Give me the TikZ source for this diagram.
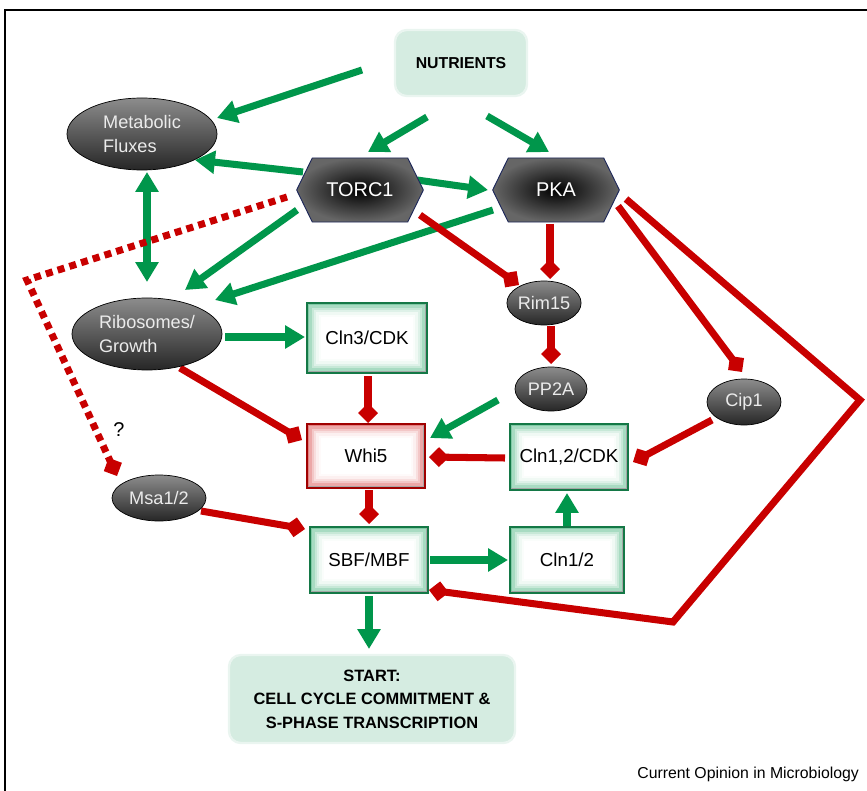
\documentclass[tikz,border=0pt]{standalone}
\usepackage{fontspec}
\setmainfont{Liberation Sans}
\usetikzlibrary{arrows.meta,shapes.geometric,shapes.symbols,calc}
\definecolor{ggreen}{RGB}{0,150,75}
\definecolor{gborder}{RGB}{20,120,70}
\definecolor{rred}{RGB}{200,0,0}
\definecolor{mint}{RGB}{213,236,225}
\pgfdeclarelayer{bg}
\pgfsetlayers{bg,main}
\tikzset{
  garr/.style={draw=ggreen, line width=6pt, -{Triangle[length=17pt,width=19pt]}},
  gdbl/.style={draw=ggreen, line width=6pt, {Triangle[length=17pt,width=19pt]}-{Triangle[length=17pt,width=19pt]}},
  rinh/.style={draw=rred, line width=6pt, line join=miter, -{Diamond[length=17pt,width=17pt]}},
  rdot/.style={draw=rred, line width=6pt, dash pattern=on 6pt off 4.5pt, -{Diamond[length=17pt,width=17pt]}},
  dark/.style={ellipse, draw=black, line width=0.6pt, top color=black!45, middle color=black!70, bottom color=black!85, text=white!92!black, inner sep=0pt, font=\fontsize{15.5}{20}\selectfont},
  hexa/.style={signal, signal to=west and east, signal pointer angle=128, draw={rgb,255:red,30;green,40;blue,90}, line width=0.8pt, inner color=black, outer color=black!60, text=white, inner sep=0pt, minimum width=3.8cm, minimum height=1.92cm, font=\fontsize{17}{20}\selectfont},
  bevel/.style={fill=white, path picture={
      \foreach \i/\c in {1/50,3/34,5/22,7/13,9/6,11/2} {
        \draw[#1!\c!white, line width=2.2pt]
          ([shift={(\i pt,\i pt)}]path picture bounding box.south west) rectangle
          ([shift={(-\i pt,-\i pt)}]path picture bounding box.north east);
      }
      \draw[black!35, line width=2pt]
          ([shift={(1pt,1pt)}]path picture bounding box.south west) --
          ([shift={(-1pt,1pt)}]path picture bounding box.south east) --
          ([shift={(-1pt,-1pt)}]path picture bounding box.north east);
    }},
  gbox/.style={rectangle, draw=gborder, line width=1.5pt, bevel=ggreen, minimum width=3.54cm, minimum height=1.98cm, inner sep=0pt, font=\fontsize{16}{19}\selectfont},
  rbox/.style={gbox, draw=rred!80!black, bevel=rred},
  soft/.style={rectangle, rounded corners=10pt, fill=mint, draw=mint!50!white, line width=2pt, inner sep=0pt, align=center, font=\bfseries}
}
\begin{document}
\begin{tikzpicture}[x=0.03cm, y=-0.03cm]
\useasboundingbox (0,0) rectangle (867,791);
\draw[line width=1.3pt] (867,10) -- (5,10) -- (5,791);

% nodes
\node[soft, minimum width=3.96cm, minimum height=1.98cm, font=\bfseries\fontsize{13.5}{16}\selectfont] (nut) at (461,63) {NUTRIENTS};
\node[dark, minimum width=4.5cm, minimum height=2.16cm, align=left] (met) at (142,134) {Metabolic\\Fluxes};
\node[hexa] (torc) at (360,190) {TORC1};
\node[hexa] (pka) at (556,190) {PKA};
\node[dark, minimum width=4.5cm, minimum height=2.16cm, align=left] (rib) at (147,334) {Ribosomes/\\Growth};
\node[gbox, minimum width=3.6cm, minimum height=2.1cm] (cln3) at (367,338) {Cln3/CDK};
\node[dark, minimum width=2.1cm, minimum height=1.32cm] (rim) at (544,303) {Rim15};
\node[dark, minimum width=2.16cm, minimum height=1.32cm] (pp2a) at (551,389) {PP2A};
\node[dark, minimum width=2.22cm, minimum height=1.38cm] (cip) at (744,402) {Cip1};
\node[rbox, minimum height=1.92cm] (whi) at (366,456) {Whi5};
\node[gbox] (cdk) at (569,457) {Cln1,2/CDK};
\node[dark, minimum width=2.82cm, minimum height=1.38cm] (msa) at (159,498) {Msa1/2};
\node[gbox] (sbf) at (369,560) {SBF/MBF};
\node[gbox, minimum width=3.42cm] (cln) at (567,560) {Cln1/2};
\node[soft, minimum width=8.58cm, minimum height=2.64cm, font=\bfseries\fontsize{14}{20}\selectfont] (start) at (372,699) {START:\\CELL CYCLE COMMITMENT \&\\S-PHASE TRANSCRIPTION};
\node[font=\fontsize{17}{20}\selectfont] (q) at (119,430) {?};
\node[anchor=east, font=\fontsize{13.5}{16}\selectfont] (src) at (863,774) {Current Opinion in Microbiology};

\coordinate (z1) at (860,400);
\coordinate (z2) at (673,622);
\coordinate (d1) at (27,280);

\begin{pgfonlayer}{bg}
% green activations
\draw[garr] ($(nut)+(-99,7)$) -- ($(met)+(75,-16)$);
\draw[garr] ($(nut)+(-34,54)$) -- ($(torc)+(8,-38)$);
\draw[garr] ($(nut)+(26,53)$) -- ($(pka)+(-7,-38)$);
\draw[garr] ($(torc)+(-57,-18)$) -- ($(met)+(53,26)$);
\draw[garr] ($(torc)+(57,-10)$) -- ($(pka)+(-68,0)$);
\draw[gdbl] ($(met)+(5,38)$) -- ($(rib)+(0,-52)$);
\draw[garr] ($(torc)+(-63,20)$) -- ($(rib)+(38,-44)$);
\draw[garr] ($(pka)+(-63,20)$) -- ($(rib)+(68,-34)$);
\draw[garr] ($(rib)+(78,3)$) -- ($(cln3)+(-62,-1)$);
\draw[garr] ($(pp2a)+(-53,11)$) -- ($(whi)+(64,-18)$);
\draw[garr] ($(sbf)+(61,0)$) -- ($(cln)+(-59,0)$);
\draw[garr] ($(cln)+(0,-34)$) -- ($(cdk)+(-2,36)$);
\draw[garr] ($(sbf)+(0,36)$) -- ($(start)+(-3,-50)$);
% red inhibitions
\draw[rinh] ($(torc)+(60,25)$) -- ($(rim)+(-25,-18)$);
\draw[rinh] ($(pka)+(-6,34)$) -- ($(rim)+(6,-24)$);
\draw[rinh] ($(rim)+(7,23)$) -- ($(pp2a)+(0,-25)$);
\draw[rinh] ($(pka)+(62,16)$) -- ($(cip)+(-2,-30)$);
\draw[rinh] ($(pka)+(70,9)$) -- (z1) -- (z2) -- ($(sbf)+(60,30)$);
\draw[rinh] ($(cln3)+(1,38)$) -- ($(whi)+(2,-33)$);
\draw[rinh] ($(rib)+(33,34)$) -- ($(whi)+(-64,-16)$);
\draw[rinh] ($(cdk)+(-64,1)$) -- ($(whi)+(63,1)$);
\draw[rinh] ($(cip)+(-32,18)$) -- ($(cdk)+(64,5)$);
\draw[rinh] ($(whi)+(3,34)$) -- ($(sbf)+(0,-36)$);
\draw[rinh] ($(msa)+(42,13)$) -- ($(sbf)+(-64,-31)$);
\draw[rdot] ($(torc)+(-73,7)$) -- (d1) -- ($(msa)+(-42,-22)$);
\end{pgfonlayer}
\end{tikzpicture}
\end{document}
